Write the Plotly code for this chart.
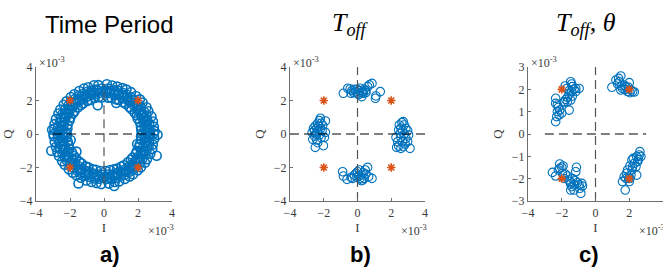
import plotly.graph_objects as go

# ---------------- data (units of 1e-3) ----------------
reference_I = [-2, 2, -2, 2]
reference_Q = [2, 2, -2, -2]

time_period_points = [
    # quadrant I
    (2.22, 0.03), (2.71, -0.02), (2.47, 0.12), (2.98, 0.17), (2.19, 0.25), (2.66, 0.30),
    (2.40, 0.38), (2.93, 0.44), (2.17, 0.44), (2.66, 0.57), (2.35, 0.65), (2.88, 0.75),
    (2.11, 0.70), (2.55, 0.82), (2.31, 0.86), (2.79, 1.05), (1.98, 0.92), (2.49, 1.08),
    (2.20, 1.12), (2.61, 1.36), (1.93, 1.12), (2.36, 1.33), (2.04, 1.36), (2.50, 1.60),
    (1.80, 1.27), (2.16, 1.61), (1.92, 1.52), (2.27, 1.88), (1.61, 1.49), (2.03, 1.79),
    (1.75, 1.71), (2.11, 2.07), (1.49, 1.61), (1.79, 2.03), (1.52, 1.92), (1.88, 2.27),
    (1.27, 1.80), (1.61, 2.16), (1.36, 2.04), (1.59, 2.50), (1.12, 1.89), (1.33, 2.36),
    (1.13, 2.16), (1.32, 2.65), (0.88, 2.03), (1.12, 2.45), (0.86, 2.31), (1.08, 2.74),
    (0.70, 2.07), (0.81, 2.59), (0.61, 2.39), (0.78, 2.83), (0.44, 2.17), (0.58, 2.62),
    (0.36, 2.44), (0.48, 2.90), (0.25, 2.17), (0.26, 2.71), (0.11, 2.47), (0.17, 2.97),
    (2.57, 0.20), (2.54, 0.47), (2.47, 0.73), (2.38, 0.99), (2.27, 1.23), (2.13, 1.46),
    (1.96, 1.67), (1.78, 1.87), (1.57, 2.05), (1.35, 2.20), (1.11, 2.33), (0.86, 2.43),
    (0.60, 2.51), (0.34, 2.56), (0.07, 2.58),
    # quadrant II
    (-2.43, 0.02), (-2.97, -0.01), (-2.21, 0.10), (-2.68, 0.15), (-2.46, 0.24), (-2.92, 0.33),
    (-2.15, 0.33), (-2.69, 0.40), (-2.38, 0.53), (-2.91, 0.59), (-2.14, 0.55), (-2.59, 0.72),
    (-2.35, 0.74), (-2.83, 0.89), (-2.03, 0.81), (-2.54, 0.95), (-2.26, 0.98), (-2.68, 1.22),
    (-1.98, 0.98), (-2.43, 1.21), (-2.10, 1.25), (-2.57, 1.46), (-1.83, 1.22), (-2.29, 1.45),
    (-2.00, 1.42), (-2.37, 1.75), (-1.73, 1.36), (-2.08, 1.72), (-1.80, 1.66), (-2.21, 1.95),
    (-1.54, 1.58), (-1.93, 1.89), (-1.66, 1.80), (-1.95, 2.21), (-1.36, 1.73), (-1.72, 2.08),
    (-1.42, 2.00), (-1.75, 2.37), (-1.22, 1.83), (-1.45, 2.29), (-1.25, 2.10), (-1.46, 2.57),
    (-0.98, 1.98), (-1.25, 2.39), (-1.02, 2.22), (-1.18, 2.72), (-0.81, 2.03), (-0.95, 2.54),
    (-0.74, 2.35), (-0.93, 2.79), (-0.55, 2.15), (-0.72, 2.59), (-0.53, 2.38), (-0.59, 2.91),
    (-0.32, 2.19), (-0.44, 2.65), (-0.24, 2.46), (-0.33, 2.92), (-0.12, 2.18), (-0.13, 2.72),
    (-2.62, 0.18), (-2.50, 0.49), (-2.51, 0.71), (-2.33, 1.01), (-2.31, 1.20), (-2.10, 1.49),
    (-1.99, 1.63), (-1.75, 1.90), (-1.60, 2.01), (-1.32, 2.24), (-1.14, 2.29), (-0.84, 2.47),
    (-0.62, 2.48), (-0.36, 2.60), (-0.05, 2.55),
    # quadrant III
    (-2.19, -0.04), (-2.73, -0.01), (-2.44, -0.14), (-2.96, -0.13), (-2.21, -0.22), (-2.70, -0.27),
    (-2.43, -0.36), (-2.90, -0.47), (-2.13, -0.47), (-2.62, -0.55), (-2.39, -0.61), (-2.83, -0.78),
    (-2.07, -0.67), (-2.58, -0.85), (-2.27, -0.90), (-2.74, -1.08), (-2.03, -0.88), (-2.45, -1.12),
    (-2.16, -1.09), (-2.65, -1.32), (-1.89, -1.08), (-2.32, -1.37), (-2.08, -1.32), (-2.46, -1.63),
    (-1.76, -1.31), (-2.20, -1.57), (-1.88, -1.56), (-2.31, -1.84), (-1.65, -1.45), (-1.99, -1.83),
    (-1.71, -1.75), (-2.07, -2.11), (-1.45, -1.65), (-1.83, -1.99), (-1.56, -1.88), (-1.84, -2.31),
    (-1.31, -1.76), (-1.57, -2.20), (-1.32, -2.08), (-1.63, -2.46), (-1.08, -1.93), (-1.37, -2.32),
    (-1.09, -2.20), (-1.36, -2.61), (-0.92, -1.99), (-1.08, -2.49), (-0.90, -2.27), (-1.04, -2.78),
    (-0.66, -2.11), (-0.85, -2.55), (-0.65, -2.35), (-0.74, -2.87), (-0.48, -2.13), (-0.54, -2.66),
    (-0.40, -2.40), (-0.44, -2.93), (-0.21, -2.21), (-0.30, -2.67), (-0.14, -2.43), (-0.16, -2.99),
    (-2.55, -0.22), (-2.58, -0.45), (-2.44, -0.75), (-2.41, -0.97), (-2.24, -1.26), (-2.16, -1.43),
    (-1.93, -1.70), (-1.81, -1.84), (-1.54, -2.08), (-1.38, -2.17), (-1.08, -2.36), (-0.89, -2.40),
    (-0.57, -2.54), (-0.37, -2.53), (-0.04, -2.62),
    # quadrant IV
    (2.46, -0.03), (2.93, 0.02), (2.18, -0.12), (2.72, -0.13), (2.42, -0.27), (2.96, -0.29),
    (2.19, -0.35), (2.65, -0.43), (2.41, -0.49), (2.87, -0.63), (2.11, -0.59), (2.63, -0.68),
    (2.31, -0.78), (2.84, -0.90), (2.07, -0.77), (2.50, -0.99), (2.22, -1.02), (2.72, -1.18),
    (1.94, -1.02), (2.43, -1.21), (2.14, -1.21), (2.53, -1.50), (1.87, -1.18), (2.25, -1.49),
    (1.96, -1.46), (2.41, -1.71), (1.69, -1.40), (2.12, -1.68), (1.84, -1.62), (2.17, -1.99),
    (1.58, -1.54), (1.89, -1.93), (1.62, -1.84), (1.99, -2.17), (1.40, -1.69), (1.68, -2.12),
    (1.46, -1.96), (1.71, -2.41), (1.18, -1.87), (1.49, -2.25), (1.21, -2.14), (1.50, -2.53),
    (1.02, -1.94), (1.21, -2.43), (0.98, -2.26), (1.22, -2.68), (0.77, -2.07), (0.99, -2.50),
    (0.78, -2.31), (0.89, -2.84), (0.59, -2.11), (0.68, -2.63), (0.49, -2.42), (0.63, -2.87),
    (0.36, -2.15), (0.40, -2.68), (0.27, -2.42), (0.29, -2.96), (0.10, -2.21), (0.15, -2.69),
    (2.60, -0.19), (2.49, -0.50), (2.53, -0.70), (2.35, -1.03), (2.30, -1.19), (2.09, -1.50),
    (2.00, -1.62), (1.74, -1.91), (1.62, -2.00), (1.31, -2.25), (1.15, -2.30), (0.82, -2.46),
    (0.64, -2.49), (0.31, -2.59), (0.09, -2.54),
    # stray samples
    (-0.37, 1.72), (0.72, 1.85), (-1.62, -1.05), (3.15, -0.05), (-3.05, 0.25),
    (-1.50, -2.95), (0.60, -3.10), (-3.10, -1.00), (3.10, -1.30), (-1.96, -0.36), (1.95, -0.60),
]

t_off_points = [
    # top cluster
    (-0.84, 2.43), (-0.58, 2.73), (-0.44, 2.69), (-0.33, 2.59), (-0.23, 2.47), (-0.09, 2.51),
    (0.01, 2.43), (-0.19, 2.67), (-0.03, 2.67), (0.11, 2.59), (0.21, 2.47), (0.31, 2.55),
    (0.40, 2.67), (0.50, 2.59), (0.60, 2.83), (0.70, 2.93), (0.86, 3.02), (0.25, 2.23),
    (0.07, 2.35), (0.35, 2.43), (1.06, 2.13), (1.09, 2.27), (1.35, 2.53), (-0.38, 2.43),
    (0.50, 2.47), (0.15, 2.73),
    # bottom cluster
    (-0.88, -2.25), (-0.84, -2.51), (-0.62, -2.71), (-0.38, -2.59), (-0.19, -2.45), (-0.09, -2.35),
    (0.01, -2.25), (0.07, -2.51), (0.15, -2.65), (0.25, -2.45), (0.35, -2.31), (0.46, -2.15),
    (0.60, -1.99), (0.50, -2.39), (0.40, -2.65), (0.23, -2.79), (0.86, -2.65), (0.66, -2.55),
    (-0.03, -2.59), (-0.29, -2.65), (0.11, -2.15), (0.31, -2.75),
    # left cluster
    (-2.20, 0.94), (-2.26, 0.80), (-1.90, 0.78), (-2.36, 0.64), (-2.16, 0.64), (-2.50, 0.48),
    (-2.30, 0.48), (-2.06, 0.52), (-2.61, 0.34), (-2.42, 0.34), (-2.20, 0.30), (-2.55, 0.20),
    (-2.36, 0.14), (-2.10, 0.20), (-1.90, 0.10), (-2.69, 0.08), (-2.46, 0.00), (-2.26, -0.06),
    (-2.65, -0.32), (-2.42, -0.36), (-2.16, -0.22), (-1.96, -0.20), (-2.36, -0.52), (-2.50, -0.80),
    (-2.02, -0.70), (-2.55, -0.12),
    # right cluster
    (2.63, 0.68), (2.71, 0.74), (2.48, 0.54), (2.77, 0.54), (2.57, 0.34), (2.87, 0.34),
    (2.44, 0.24), (2.67, 0.20), (2.97, 0.20), (2.53, 0.04), (2.77, 0.00), (3.03, -0.06),
    (2.28, -0.20), (2.57, -0.20), (2.87, -0.26), (2.38, -0.46), (2.67, -0.46), (2.97, -0.46),
    (2.44, -0.72), (2.71, -0.76), (3.11, -0.86), (2.57, -0.86), (2.32, -0.80), (2.83, -0.60),
]

t_off_theta_points = [
    # upper-left cluster
    (-1.80, 2.15), (-1.70, 2.04), (-1.47, 2.34), (-1.41, 2.24), (-1.37, 2.12), (-1.56, 1.94),
    (-1.41, 1.90), (-1.27, 2.00), (-1.17, 2.04), (-0.97, 2.04), (-1.56, 1.79), (-1.37, 1.70),
    (-1.66, 1.64), (-1.76, 1.55), (-1.86, 1.45), (-2.36, 1.60), (-2.36, 1.37), (-2.26, 1.30),
    (-2.20, 1.19), (-2.12, 1.07), (-2.26, 1.00), (-2.36, 0.55), (-2.30, 0.78), (-2.16, 0.85),
    (-2.00, 0.93), (-1.86, 1.40), (-1.56, 1.07), (-1.66, 1.45), (-1.17, 1.90), (-1.47, 1.52),
    # upper-right cluster
    (0.97, 2.09), (1.21, 2.42), (1.37, 2.49), (1.50, 2.60), (1.41, 2.34), (1.31, 2.24),
    (1.56, 2.15), (1.70, 2.19), (1.80, 2.12), (2.00, 2.30), (1.96, 2.09), (2.10, 1.97),
    (2.20, 1.90), (1.90, 1.90), (1.60, 2.04), (1.50, 1.97), (1.76, 2.00), (2.04, 1.85),
    (2.30, 1.88),
    # lower-left cluster
    (-2.55, -1.72), (-2.36, -1.88), (-2.12, -1.34), (-2.00, -1.49), (-1.92, -1.43), (-2.20, -1.61),
    (-1.96, -1.76), (-1.80, -1.79), (-1.66, -1.88), (-1.56, -2.06), (-1.47, -2.24), (-1.41, -2.36),
    (-1.27, -2.51), (-0.87, -2.66), (-1.13, -1.49), (-1.17, -1.69), (-1.37, -1.99), (-1.21, -2.09),
    (-1.07, -2.18), (-0.97, -2.28), (-0.81, -2.21), (-0.77, -2.33), (-0.93, -2.43), (-1.47, -2.51),
    (-1.27, -2.28), (-1.52, -2.13), (-1.86, -1.99), (-2.12, -1.54),
    # lower-right cluster
    (1.76, -2.51), (1.60, -2.13), (1.70, -1.91), (1.84, -1.76), (1.80, -1.99), (1.96, -1.99),
    (1.90, -1.61), (2.04, -1.43), (2.16, -1.16), (2.24, -1.09), (2.30, -1.31), (2.40, -1.46),
    (2.50, -1.24), (2.44, -1.01), (2.59, -0.94), (2.63, -0.79), (2.69, -1.01), (2.44, -1.84),
    (2.16, -1.61), (2.10, -1.84), (2.04, -1.99), (2.20, -1.46), (2.55, -1.13), (2.00, -2.13),
]

panel_titles = ["Time Period", "<i>T</i><sub><i>off</i></sub>",
                "<i>T</i><sub><i>off</i></sub>, <i>θ</i>"]
panel_letters = ["a)", "b)", "c)"]
x_ticks = [-4, -2, 0, 2, 4]
y_ticks_ab = [-4, -2, 0, 2, 4]
y_ticks_c = [-3, -2, -1, 0, 1, 2, 3]
guide_extent = [3, 4, 3]   # half-length of the dashed axes guides

# ---------------- figure ----------------
W, H = 663, 274
BLUE = "#0072BD"
RED = "#D95319"
AX = "#6e6e6e"
TXT = "#3a3a3a"
SERIF = "Liberation Serif, Times New Roman, serif"
SANS = "Liberation Sans, Arial, Helvetica, sans-serif"

# plot-area pixel boxes (left, right) and (top, bottom)
xboxes = [(36, 172), (290, 425), (528, 663)]
ytop, ybot = 67, 201

fig = go.Figure()
datasets = [time_period_points, t_off_points, t_off_theta_points]
for k, pts in enumerate(datasets):
    xa = "x" if k == 0 else f"x{k+1}"
    ya = "y" if k == 0 else f"y{k+1}"
    fig.add_trace(go.Scatter(
        x=[p[0] for p in pts], y=[p[1] for p in pts], mode="markers",
        xaxis=xa, yaxis=ya, showlegend=False, hoverinfo="skip",
        marker=dict(symbol="circle-open", size=9 if k == 0 else 8.5, color=BLUE,
                    line=dict(width=1.6 if k == 0 else 1.1, color=BLUE))))
    e = guide_extent[k]
    fig.add_trace(go.Scatter(x=[-e, e], y=[0, 0], mode="lines", xaxis=xa, yaxis=ya,
                             showlegend=False, hoverinfo="skip",
                             line=dict(color="black", width=1.2, dash="9px,5px")))
    fig.add_trace(go.Scatter(x=[0, 0], y=[-e, e], mode="lines", xaxis=xa, yaxis=ya,
                             showlegend=False, hoverinfo="skip",
                             line=dict(color="#555555", width=1.2, dash="9px,5px")))
    fig.add_trace(go.Scatter(x=reference_I, y=reference_Q, mode="markers",
                             xaxis=xa, yaxis=ya, showlegend=False, hoverinfo="skip",
                             marker=dict(symbol="asterisk-open", size=7, color=RED,
                                         line=dict(width=1.6, color=RED))))

axis_common = dict(showgrid=False, zeroline=False, showline=True, linecolor=AX,
                   linewidth=1.2, ticks="inside", ticklen=3, tickcolor=AX, tickwidth=1,
                   tickfont=dict(family=SERIF, size=12, color=TXT), mirror=False,
                   fixedrange=True, automargin=False)

layout = dict(width=W, height=H, margin=dict(l=0, r=0, t=0, b=0, autoexpand=False),
              paper_bgcolor="white", plot_bgcolor="white", annotations=[])
for k in range(3):
    xs = "xaxis" if k == 0 else f"xaxis{k+1}"
    ys = "yaxis" if k == 0 else f"yaxis{k+1}"
    ya_ref = "y" if k == 0 else f"y{k+1}"
    xa_ref = "x" if k == 0 else f"x{k+1}"
    l, r = xboxes[k]
    yt = y_ticks_c if k == 2 else y_ticks_ab
    layout[xs] = dict(axis_common, domain=[l / W, r / W], range=[-4, 4], tickvals=x_ticks,
                      anchor=ya_ref,
                      title=dict(text="I", font=dict(family=SERIF, size=13, color=TXT),
                                 standoff=4))
    layout[ys] = dict(axis_common, domain=[1 - ybot / H, 1 - ytop / H],
                      range=[yt[0], yt[-1]], tickvals=yt, anchor=xa_ref,
                      title=dict(text="Q", font=dict(family=SERIF, size=13, color=TXT),
                                 standoff=6))
    # exponent labels
    layout["annotations"].append(dict(
        text="×10<sup>-3</sup>", x=(l + 1) / W, y=1 - 62 / H, xref="paper", yref="paper",
        xanchor="left", yanchor="middle", showarrow=False,
        font=dict(family=SERIF, size=12, color=TXT)))
    layout["annotations"].append(dict(
        text="×10<sup>-3</sup>", x=(r - 26) / W, y=1 - 230 / H, xref="paper", yref="paper",
        xanchor="left", yanchor="middle", showarrow=False,
        font=dict(family=SERIF, size=12, color=TXT)))
    # panel titles
    title_x = [109, 350, 586][k]
    layout["annotations"].append(dict(
        text=panel_titles[k], x=title_x / W, y=1 - 24 / H, xref="paper", yref="paper",
        xanchor="center", yanchor="middle", showarrow=False,
        font=dict(family=SANS if k == 0 else SERIF, size=24 if k == 0 else 26,
                  color="black")))
    letter_x = [110, 361, 589][k]
    layout["annotations"].append(dict(
        text=f"<b>{panel_letters[k]}</b>", x=letter_x / W, y=1 - 254 / H,
        xref="paper", yref="paper", xanchor="center", yanchor="middle",
        showarrow=False, font=dict(family=SANS, size=22, color="black")))

fig.update_layout(**layout)
fig.write_html("out.html", config={"displayModeBar": False},
               post_script="document.body.style.margin='0';")
